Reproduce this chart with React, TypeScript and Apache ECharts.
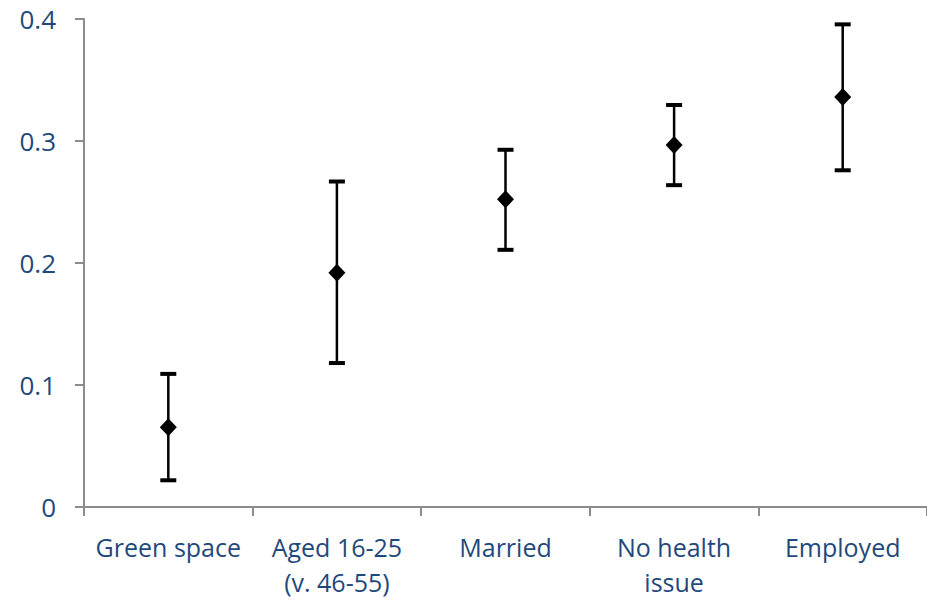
import React, { useEffect, useRef } from "react";
import * as echarts from "echarts";

// Estimated effects with 95% confidence intervals
const categories = ["Green space", "Aged 16-25\n(v. 46-55)", "Married", "No health\nissue", "Employed"];
const estimates = [0.0653, 0.1921, 0.2522, 0.2968, 0.336];
const lowerBounds = [0.0219, 0.118, 0.2108, 0.2638, 0.276];
const upperBounds = [0.1091, 0.2668, 0.2928, 0.3295, 0.3956];

const TEXT_COLOR = "#1F497D";
const AXIS_COLOR = "#8C8C8C";
const FONT = "'Open Sans', 'Noto Sans', sans-serif";

export default function App() {
  const ref = useRef<HTMLDivElement>(null);

  useEffect(() => {
    if (!ref.current) return;
    const chart = echarts.init(ref.current, null, { renderer: "svg" });

    const errorData = categories.map((_, i) => [i, lowerBounds[i], upperBounds[i]]);

    chart.setOption({
      animation: false,
      backgroundColor: "#ffffff",
      grid: { left: 84, top: 19, width: 849, bottom: 87.3, containLabel: false },
      xAxis: {
        type: "category",
        data: categories,
        boundaryGap: true,
        axisLine: { show: true, lineStyle: { color: AXIS_COLOR, width: 2 } },
        axisTick: { show: true, length: 9, alignWithLabel: false, lineStyle: { color: AXIS_COLOR, width: 2 } },
        axisLabel: {
          color: TEXT_COLOR,
          fontFamily: FONT,
          fontSize: 25,
          lineHeight: 35,
          margin: 22,
          interval: 0,
        },
        splitLine: { show: false },
      },
      yAxis: {
        type: "value",
        min: 0,
        max: 0.4,
        interval: 0.1,
        axisLine: { show: true, lineStyle: { color: AXIS_COLOR, width: 2 } },
        axisTick: { show: true, length: 9, lineStyle: { color: AXIS_COLOR, width: 2 } },
        axisLabel: {
          color: TEXT_COLOR,
          fontFamily: FONT,
          fontSize: 26,
          margin: 28,
        },
        splitLine: { show: false },
      },
      series: [
        {
          type: "custom",
          data: errorData,
          z: 2,
          renderItem: (params: any, api: any) => {
            const idx = api.value(0);
            const low = api.coord([idx, api.value(1)]);
            const high = api.coord([idx, api.value(2)]);
            const half = 8;
            const stem = { stroke: "#000", lineWidth: 2.5 };
            const cap = { stroke: "#000", lineWidth: 4 };
            return {
              type: "group",
              children: [
                { type: "line", shape: { x1: high[0], y1: high[1], x2: low[0], y2: low[1] }, style: stem },
                { type: "line", shape: { x1: high[0] - half, y1: high[1], x2: high[0] + half, y2: high[1] }, style: cap },
                { type: "line", shape: { x1: low[0] - half, y1: low[1], x2: low[0] + half, y2: low[1] }, style: cap },
              ],
            };
          },
        },
        {
          type: "scatter",
          data: estimates,
          symbol: "diamond",
          symbolSize: [17, 18],
          itemStyle: { color: "#000", opacity: 1 },
          z: 3,
        },
      ],
    });

    return () => chart.dispose();
  }, []);

  return (
    <div
      ref={ref}
      style={{ position: "fixed", left: 0, top: 0, width: 927, height: 599 }}
    />
  );
}
